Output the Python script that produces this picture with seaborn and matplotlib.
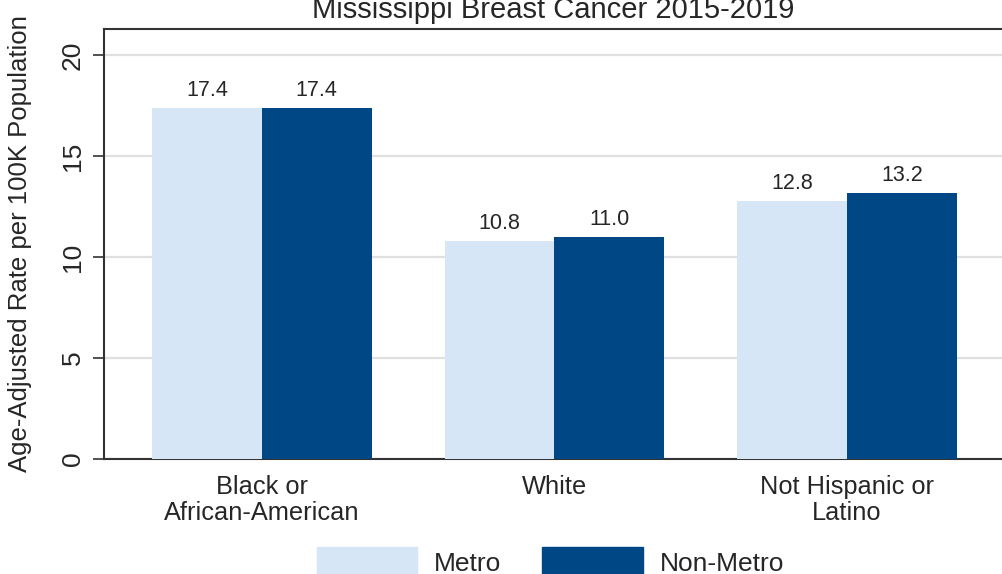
import pandas as pd
import seaborn as sns
import matplotlib.pyplot as plt

# Données
groups = ["Black or\nAfrican-American", "White", "Not Hispanic or\nLatino"]
metro = [17.4, 10.8, 12.8]
non_metro = [17.4, 11.0, 13.2]
series = ["Metro", "Non-Metro"]
colors = ["#d6e6f6", "#004785"]

df = pd.DataFrame({
    "group": groups * 2,
    "rate": metro + non_metro,
    "area": [series[0]] * len(groups) + [series[1]] * len(groups),
})

sns.set_style("white")
plt.rcParams["font.family"] = ["Liberation Sans", "DejaVu Sans"]

fig = plt.figure(figsize=(10.02, 5.74), dpi=100)
ax = fig.add_axes([0.1038, 0.2003, 0.8962, 0.7491])

sns.barplot(data=df, x="group", y="rate", hue="area", palette=colors,
            width=0.75, saturation=1, linewidth=0, ax=ax, legend=False, zorder=3)

for c in ax.containers:
    ax.bar_label(c, fmt="%.1f", padding=5, fontsize=15.5)

ax.set_xlim(-0.54, 2.53)
ax.set_ylim(0, 21.3)
ax.set_yticks([0, 5, 10, 15, 20])
ax.yaxis.grid(True, color="#e0e0e0", lw=1.6, zorder=0)
ax.xaxis.grid(False)

for side in ["left", "bottom", "top"]:
    ax.spines[side].set_color("#333333")
    ax.spines[side].set_linewidth(1.5)
ax.spines["right"].set_visible(False)

ax.tick_params(axis="y", left=True, length=8, width=1.2, color="#333333",
               pad=6, labelsize=19, labelrotation=90)
for t in ax.get_yticklabels():
    t.set_va("center")
ax.tick_params(axis="x", bottom=False, pad=8, labelsize=18.3)
for t in ax.get_xticklabels():
    t.set_linespacing(1.12)

ax.set_xlabel("")
ax.set_ylabel("Age-Adjusted Rate per 100K Population", fontsize=18.5)
ax.yaxis.set_label_coords(-0.080, 0.5)
ax.set_title("Mississippi Breast Cancer 2015-2019", fontsize=21, pad=8)

handles = [plt.Rectangle((0, 0), 1, 1, color=col) for col in colors]
fig.legend(handles, series, loc="center", bbox_to_anchor=(0.5494, 0.02),
           ncol=2, frameon=False, fontsize=19, handlelength=3.8, handleheight=1.4,
           handletextpad=0.64, columnspacing=1.55)

fig.savefig("out.png", dpi=100)
